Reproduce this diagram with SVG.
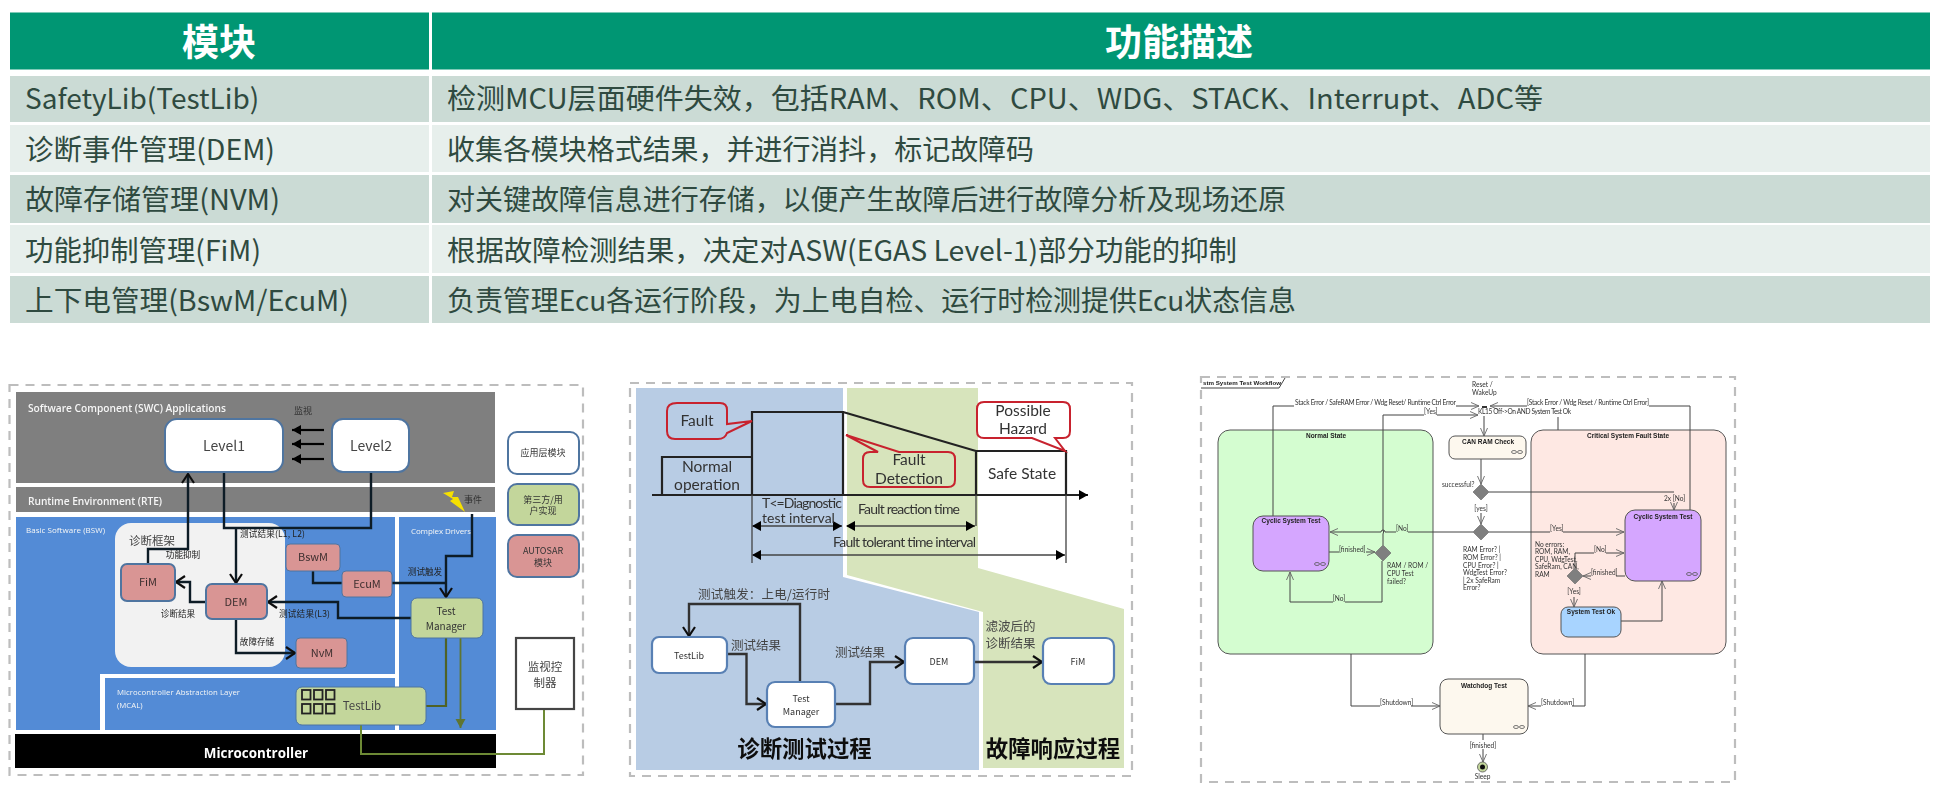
<svg xmlns="http://www.w3.org/2000/svg" width="1940" height="797" viewBox="0 0 1940 797">
<style>
text{font-family:"Noto Sans CJK SC","Noto Sans",sans-serif;fill:#333}
.hd{fill:#009673}.odd{fill:#cbdbd5}.even{fill:#e7efec}
.th{font-size:37px;font-weight:700;fill:#fff;text-anchor:middle}
.td{font-size:28px;fill:#2f4a40}
.frame{fill:none;stroke:#bdbdbd;stroke-width:2.2;stroke-dasharray:9 7}
.m{text-anchor:middle}
.mod{stroke:#4f74a0;stroke-width:2}
.w{fill:#fff}.g{fill:#c3d69b}.r{fill:#d99594}
.c{fill:none;stroke:#000;stroke-width:2.2}
.ck{fill:none;stroke:#111c28;stroke-width:2.4}
.s9{font-size:8.6px;fill:#222}.s10{font-size:9px;fill:#333}.s11{font-size:11px;fill:#3e2f2f}.s12{font-size:11.5px;fill:#444}.s13{font-size:12.5px;fill:#444}.s14{font-size:14px;fill:#444}
.wh{fill:#f6f6f6;font-family:"Open Sans","Noto Sans",sans-serif}
.la{font-family:Lato,"Noto Sans",sans-serif;fill:#333;font-size:15.5px}
.lb{font-size:14px}
.bx{stroke:#5880b4;stroke-width:2.2;fill:#fff}
.cal{fill:none;stroke:#c8232e;stroke-width:2}
.l2{fill:none;stroke:#222;stroke-width:2.2}
.thin{fill:none;stroke:#444;stroke-width:1.3}
.st{stroke:#555;stroke-width:1}
.u{font-family:Lato,"Liberation Sans",sans-serif;font-size:6.6px;fill:#333}
.ub{font-family:"Liberation Sans",sans-serif;font-size:6.5px;font-weight:700;fill:#222;text-anchor:middle}
.t{fill:none;stroke:#444;stroke-width:1}
.dm{fill:#7f7f7f;stroke:#666;stroke-width:.6}
.link{fill:none;stroke:#555;stroke-width:.8}
</style>
<defs>
<filter id="soft" x="-2%" y="-2%" width="104%" height="104%"><feGaussianBlur stdDeviation="0.65"/></filter>
<filter id="soft2" x="-2%" y="-2%" width="104%" height="104%"><feGaussianBlur stdDeviation="0.45"/></filter>
<marker id="ok" markerUnits="userSpaceOnUse" markerWidth="16" markerHeight="16" refX="11" refY="7" orient="auto"><path d="M2 1L11 7L2 13" fill="none" stroke="#111" stroke-width="2.2"/></marker>
<marker id="fk" markerUnits="userSpaceOnUse" markerWidth="12" markerHeight="12" refX="9" refY="5" orient="auto"><path d="M0 0L9 5L0 10Z" fill="#000"/></marker>
<marker id="fkb" markerUnits="userSpaceOnUse" markerWidth="12" markerHeight="12" refX="1" refY="5" orient="auto"><path d="M9 0L0 5L9 10Z" fill="#000"/></marker>
<marker id="fo" markerUnits="userSpaceOnUse" markerWidth="12" markerHeight="12" refX="9" refY="5" orient="auto"><path d="M0 0L9 5L0 10Z" fill="#5f7530"/></marker>
<marker id="og" markerUnits="userSpaceOnUse" markerWidth="10" markerHeight="10" refX="8" refY="4" orient="auto"><path d="M0 .5L8 4L0 7.500" fill="none" stroke="#666" stroke-width=".9"/></marker>
</defs>

<g id="table">
<g id="table-header">
<rect class="hd" x="10" y="12.500" width="419" height="57"/><rect class="hd" x="432" y="12.500" width="1498" height="57"/>
<text class="th" x="219" y="56">模块</text><text class="th" x="1179" y="56">功能描述</text>
</g>
<g id="row-1"><rect class="odd" x="10" y="76" width="419" height="46"/><rect class="odd" x="432" y="76" width="1498" height="46"/>
<text class="td" x="25" y="109">SafetyLib(TestLib)</text><text class="td" x="447" y="109" textLength="1096" lengthAdjust="spacingAndGlyphs">检测MCU层面硬件失效，包括RAM、ROM、CPU、WDG、STACK、Interrupt、ADC等</text></g>
<g id="row-2"><rect class="even" x="10" y="125" width="419" height="47"/><rect class="even" x="432" y="125" width="1498" height="47"/>
<text class="td" x="25" y="160" textLength="250" lengthAdjust="spacingAndGlyphs">诊断事件管理(DEM)</text><text class="td" x="447" y="160" textLength="587" lengthAdjust="spacingAndGlyphs">收集各模块格式结果，并进行消抖，标记故障码</text></g>
<g id="row-3"><rect class="odd" x="10" y="175" width="419" height="48"/><rect class="odd" x="432" y="175" width="1498" height="48"/>
<text class="td" x="25" y="210" textLength="255" lengthAdjust="spacingAndGlyphs">故障存储管理(NVM)</text><text class="td" x="447" y="210" textLength="839" lengthAdjust="spacingAndGlyphs">对关键故障信息进行存储，以便产生故障后进行故障分析及现场还原</text></g>
<g id="row-4"><rect class="even" x="10" y="225" width="419" height="48"/><rect class="even" x="432" y="225" width="1498" height="48"/>
<text class="td" x="25" y="261" textLength="236" lengthAdjust="spacingAndGlyphs">功能抑制管理(FiM)</text><text class="td" x="447" y="261" textLength="790" lengthAdjust="spacingAndGlyphs">根据故障检测结果，决定对ASW(EGAS Level-1)部分功能的抑制</text></g>
<g id="row-5"><rect class="odd" x="10" y="276" width="419" height="47"/><rect class="odd" x="432" y="276" width="1498" height="47"/>
<text class="td" x="25" y="311" textLength="324" lengthAdjust="spacingAndGlyphs">上下电管理(BswM/EcuM)</text><text class="td" x="447" y="311" textLength="849" lengthAdjust="spacingAndGlyphs">负责管理Ecu各运行阶段，为上电自检、运行时检测提供Ecu状态信息</text></g>
</g>

<g id="architecture" filter="url(#soft)">
<rect class="frame" x="9.500" y="385" width="573.500" height="390"/>
<rect x="16" y="392" width="479" height="91" fill="#7f7f7f"/>
<rect x="16" y="487" width="479" height="25" fill="#7f7f7f"/>
<path d="M16 517H395V674H100V730H16Z" fill="#528bd6"/>
<rect x="105" y="678" width="290" height="52" fill="#528bd6"/>
<rect x="399" y="517" width="97" height="213" fill="#528bd6"/>
<rect x="15" y="734" width="481" height="34" fill="#000"/>
<rect x="115" y="523" width="170" height="144" rx="16" fill="#f2f2f2"/>
<text class="wh" x="28" y="412" font-size="10.200" font-weight="600" textLength="198">Software Component (SWC) Applications</text>
<text class="wh" x="28" y="505" font-size="10.200" font-weight="600" textLength="134">Runtime Environment (RTE)</text>
<text class="wh" x="26" y="533" font-size="8" textLength="79">Basic Software (BSW)</text>
<text class="wh" x="411" y="534" font-size="8" textLength="60">Complex Drivers</text>
<text class="wh" x="117" y="695" font-size="7.800" textLength="123">Microcontroller Abstraction Layer</text>
<text class="wh" x="117" y="708" font-size="7.800">(MCAL)</text>
<text class="wh m" x="256" y="758" font-size="13.400" font-weight="700" style="fill:#fff">Microcontroller</text>
<polygon points="443,493 454,491 452,497 458,497 465,512 450,501 453,499" fill="#f6e000"/>
<g id="arch-connectors">
<path class="c" d="M324 430H292" marker-end="url(#fk)"/><path class="c" d="M324 444H292" marker-end="url(#fk)"/><path class="c" d="M324 459H292" marker-end="url(#fk)"/>
<path class="ck" d="M371 472V528H224V473"/>
<path class="ck" d="M236 528V583" marker-end="url(#ok)"/>
<path class="ck" d="M148 563V549H188V474" marker-end="url(#ok)"/>
<path class="ck" d="M206 602H190V582H176" marker-end="url(#ok)"/>
<path class="ck" d="M236 620V653H295" marker-end="url(#ok)"/>
<path class="ck" d="M313 571V583H392H446"/>
<path class="ck" d="M472 514V556H446V597" marker-end="url(#ok)"/>
<path class="ck" d="M411 618H338V602H268" marker-end="url(#ok)"/>
<path d="M446 638V706H426" fill="none" stroke="#4f6228" stroke-width="2.200"/>
<path d="M460.500 638V728" fill="none" stroke="#5f7530" stroke-width="1.800" marker-end="url(#fo)"/>
<path d="M361 725V754H544V709" fill="none" stroke="#6d8a34" stroke-width="2"/>
</g>
<g id="level1"><rect class="mod w" x="165" y="419" width="118" height="53" rx="12"/><text class="s14 m" x="224" y="451">Level1</text></g>
<g id="level2"><rect class="mod w" x="332" y="419" width="77" height="53" rx="11"/><text class="s14 m" x="371" y="451">Level2</text></g>
<g id="fim"><rect class="mod r" x="121" y="564" width="54" height="37" rx="6"/><text class="s11 m" x="148" y="586">FiM</text></g>
<g id="dem"><rect class="mod r" x="206" y="584" width="61" height="35" rx="6"/><text class="s11 m" x="236" y="606">DEM</text></g>
<g id="bswm"><rect class="mod r" x="286" y="544" width="54" height="27" rx="4" style="stroke-width:1"/><text class="s11 m" x="313" y="561">BswM</text></g>
<g id="ecum"><rect class="mod r" x="342" y="571" width="50" height="26" rx="4" style="stroke-width:1"/><text class="s11 m" x="367" y="588">EcuM</text></g>
<g id="nvm"><rect class="mod r" x="296" y="638" width="51" height="30" rx="4" style="stroke-width:1"/><text class="s11 m" x="322" y="657">NvM</text></g>
<g id="test-manager"><rect class="mod g" x="411" y="598" width="72" height="40" rx="6" style="stroke-width:1"/><text class="s10 m" x="446" y="615" style="font-size:10px">Test</text><text class="s10 m" x="446" y="630" style="font-size:10px">Manager</text></g>
<g id="testlib"><rect class="mod g" x="296" y="687" width="130" height="38" rx="6" style="stroke-width:1"/>
<g fill="none" stroke="#222" stroke-width="1.800"><rect x="302" y="690" width="8.500" height="9.500"/><rect x="314" y="690" width="8.500" height="9.500"/><rect x="326" y="690" width="8.500" height="9.500"/><rect x="302" y="704" width="8.500" height="9.500"/><rect x="314" y="704" width="8.500" height="9.500"/><rect x="326" y="704" width="8.500" height="9.500"/></g>
<text class="s12 m" x="362" y="710">TestLib</text></g>
<g id="monitor"><rect x="516" y="638" width="58" height="71" fill="#fff" stroke="#444" stroke-width="2.200"/><text class="s12 m" x="545" y="670.500">监视控</text><text class="s12 m" x="545" y="686.500">制器</text></g>
<g id="legend-app"><rect class="mod w" x="508" y="432" width="71" height="42" rx="9"/><text class="s10 m" x="543" y="456">应用层模块</text></g>
<g id="legend-third"><rect class="mod g" x="508" y="484" width="71" height="41" rx="9"/><text class="s10 m" x="543" y="503">第三方/用</text><text class="s10 m" x="543" y="514">户实现</text></g>
<g id="legend-autosar"><rect class="mod r" x="508" y="535" width="71" height="42" rx="9"/><text class="s10 m" x="543" y="554">AUTOSAR</text><text class="s10 m" x="543" y="566">模块</text></g>
<text class="s10 m" x="303" y="414">监视</text>
<text class="s10 m" x="473" y="503">事件</text>
<text class="s12 m" x="152" y="545">诊断框架</text>
<text class="s9 m" x="183" y="558">功能抑制</text>
<text class="s9" x="240" y="537" textLength="65">测试结果(L1, L2)</text>
<text class="s9 m" x="178" y="617">诊断结果</text>
<text class="s9" x="279" y="617" textLength="51">测试结果(L3)</text>
<text class="s9 m" x="257" y="645">故障存储</text>
<text class="s9 m" x="425" y="575">测试触发</text>
</g>

<g id="fault-timing" filter="url(#soft)">
<rect class="frame" x="630" y="383" width="502" height="393"/>
<polygon points="636,388 843,388 843,577 979,612 979,770 636,770" fill="#b8cce4"/>
<polygon points="847,388 978,388 978,568 1124,609 1124,768 983,768 983,612 847,575" fill="#d7e4bc"/>
<g id="timing-connectors">
<path class="l2" d="M652 495H1088" marker-end="url(#fk)"/>
<path class="l2" d="M662 495V457H752"/>
<path class="l2" d="M752 495V412H843V495"/>
<path class="l2" d="M843 412L976 451V495"/>
<path class="l2" d="M976 451H1066V495"/>
<path class="thin" d="M752 495V563M976 495V526M1066 495V563"/>
<path class="thin" d="M753 526H842" marker-start="url(#fkb)" marker-end="url(#fk)"/>
<path class="thin" d="M847 526H975" marker-start="url(#fkb)" marker-end="url(#fk)"/>
<path class="thin" d="M753 555H1065" marker-start="url(#fkb)" marker-end="url(#fk)"/>
<path class="ck" style="stroke:#333" d="M800 682V604H689V636" marker-end="url(#ok)"/>
<path class="ck" style="stroke:#333" d="M727 654H746.500V704H766" marker-end="url(#ok)"/>
<path class="ck" style="stroke:#333" d="M835 704H870V662H904" marker-end="url(#ok)"/>
<path class="ck" style="stroke:#333" d="M974 662H1042" marker-end="url(#ok)"/>
</g>
<g id="callout-fault"><path class="cal" d="M677 403H720Q727 403 727 410V424L752 421L727 433Q725 439 718 439H675Q667 439 667 431V411Q667 403 677 403Z"/><text class="la m" x="697" y="426">Fault</text></g>
<g id="callout-detection"><path class="cal" d="M899 452H948Q955 452 955 459V480Q955 487 948 487H870Q863 487 863 480V459Q863 452 870 452H878L846 435Z"/><text class="la m" x="909" y="465">Fault</text><text class="la m" x="909" y="484">Detection</text></g>
<g id="callout-hazard"><path class="cal" d="M984 402H1063Q1070 402 1070 409V431Q1070 438 1063 438H1055L1065 451L1032 438H984Q977 438 977 431V409Q977 402 984 402Z" style="fill:#fff"/><text class="la m" x="1023" y="416">Possible</text><text class="la m" x="1023" y="434">Hazard</text></g>
<text class="la m" x="707" y="472">Normal</text><text class="la m" x="707" y="490">operation</text>
<text class="la m" x="1022" y="479">Safe State</text>
<text class="la lb" x="762" y="508" textLength="80">T&lt;=Diagnostic</text>
<text class="la lb" x="762" y="523">test interval</text>
<text class="la lb" x="858" y="514" textLength="102">Fault reaction time</text>
<text class="la lb" x="833" y="547" textLength="143">Fault tolerant time interval</text>
<g id="timing-testlib"><rect class="bx" x="652" y="637" width="75" height="36" rx="7"/><text class="s10 m" x="689" y="659">TestLib</text></g>
<g id="timing-manager"><rect class="bx" x="767" y="682" width="68" height="45" rx="8"/><text class="s10 m" x="801" y="702">Test</text><text class="s10 m" x="801" y="715">Manager</text></g>
<g id="timing-dem"><rect class="bx" x="905" y="638" width="69" height="46" rx="8"/><text class="s10 m" x="939" y="665">DEM</text></g>
<g id="timing-fim"><rect class="bx" x="1043" y="638" width="71" height="46" rx="8"/><text class="s10 m" x="1078" y="665">FiM</text></g>
<text class="s13" x="698" y="599" textLength="132">测试触发：上电/运行时</text>
<text class="s13 m" x="756" y="650">测试结果</text>
<text class="s13 m" x="860" y="657">测试结果</text>
<text class="s13" x="985.500" y="631">滤波后的</text>
<text class="s13" x="985.500" y="648">诊断结果</text>
<text class="m" x="804.500" y="757" font-size="22.400" font-weight="700" style="fill:#111">诊断测试过程</text>
<text class="m" x="1053" y="757" font-size="22.400" font-weight="700" style="fill:#111">故障响应过程</text>
</g>

<g id="workflow" filter="url(#soft2)">
<rect class="frame" x="1201" y="377" width="534" height="405"/>
<path d="M1201 388H1279L1285 378" class="t"/>
<text class="ub" style="text-anchor:start;font-size:6.200px" x="1203" y="385">stm System Test Workflow</text>
<g id="normal-state"><rect class="st" x="1218" y="430" width="215" height="224" rx="12" fill="#d4fdd0"/><text class="ub" x="1326" y="438.300">Normal State</text></g>
<g id="critical-state"><rect class="st" x="1531" y="430" width="195" height="224" rx="12" fill="#fee8e3"/><text class="ub" x="1628" y="438.300">Critical System Fault State</text></g>
<g id="workflow-connectors">
<path class="t" d="M1273 516V406H1294M1456 406H1479" marker-end="url(#og)"/>
<path class="t" d="M1383 545V534A2 3 0 0 0 1383 530V415H1424M1437 415H1478" marker-end="url(#og)"/>
<path class="t" d="M1473 532H1408M1396 532H1385A2 2 0 0 0 1381 532H1330" marker-end="url(#og)"/>
<path class="t" d="M1329 552H1339M1366 552H1375" marker-end="url(#og)"/>
<path class="t" d="M1382 561V602H1345M1333 602H1290V572" marker-end="url(#og)"/>
<path class="t" d="M1484 416V436" marker-end="url(#og)"/>
<path class="t" d="M1481 459V484" marker-end="url(#og)"/>
<path class="t" d="M1481 513V524" marker-end="url(#og)"/>
<path class="t" d="M1489 492H1674"/>
<path class="t" d="M1674 503V510" marker-end="url(#og)"/>
<path class="t" d="M1489 532H1550M1563 532H1624" marker-end="url(#og)"/>
<path class="t" d="M1690 510V406H1649M1527 406H1490" marker-end="url(#og)"/>
<path class="t" d="M1558 430V417"/>
<path class="t" d="M1575 568V553H1594M1606 553H1624" marker-end="url(#og)"/>
<path class="t" d="M1625 576H1616M1591 576H1583" marker-end="url(#og)"/>
<path class="t" d="M1574 597V607" marker-end="url(#og)"/>
<path class="t" d="M1621 621H1662V581" marker-end="url(#og)"/>
<path class="t" d="M1351 654V706H1380M1411 706H1440" marker-end="url(#og)"/>
<path class="t" d="M1585 654V706H1572M1541 706H1528" marker-end="url(#og)"/>
<path class="t" d="M1483 734V740M1483 749V762" marker-end="url(#og)"/>
<path d="M1482 407H1487" stroke="#000" stroke-width="1.600"/>
</g>
<g id="cyclic-left"><rect class="st" x="1253" y="516" width="76" height="55" rx="10" fill="#d5a6ff"/><text class="ub" x="1291" y="523.300">Cyclic System Test</text><ellipse class="link" cx="1317" cy="564" rx="2.500" ry="1.500"/><ellipse class="link" cx="1323" cy="564" rx="2.500" ry="1.500"/></g>
<g id="cyclic-right"><rect class="st" x="1625" y="510" width="76" height="71" rx="10" fill="#d5a6ff"/><text class="ub" x="1663" y="519.300">Cyclic System Test</text><ellipse class="link" cx="1689" cy="574" rx="2.500" ry="1.500"/><ellipse class="link" cx="1695" cy="574" rx="2.500" ry="1.500"/></g>
<g id="can-ram"><rect class="st" x="1449" y="436" width="77" height="23" rx="6" fill="#fdf8ee"/><text class="ub" x="1488" y="444.300">CAN RAM Check</text><ellipse class="link" cx="1514" cy="452" rx="2.500" ry="1.500"/><ellipse class="link" cx="1520" cy="452" rx="2.500" ry="1.500"/></g>
<g id="system-test-ok"><rect class="st" x="1561" y="607" width="60" height="30" rx="7" fill="#a8d4ff"/><text class="ub" x="1591" y="614.300">System Test Ok</text></g>
<g id="watchdog"><rect class="st" x="1440" y="679" width="88" height="55" rx="8" fill="#fdf8ee"/><text class="ub" x="1484" y="688.300">Watchdog Test</text><ellipse class="link" cx="1516" cy="727" rx="2.500" ry="1.500"/><ellipse class="link" cx="1522" cy="727" rx="2.500" ry="1.500"/></g>
<g id="decision-1"><polygon class="dm" points="1481,484 1489,492 1481,500 1473,492"/></g>
<g id="decision-2"><polygon class="dm" points="1481,524 1489,532 1481,540 1473,532"/></g>
<g id="decision-3"><polygon class="dm" points="1383,545 1391,553 1383,561 1375,553"/></g>
<g id="decision-4"><polygon class="dm" points="1575,568 1583,576 1575,584 1567,576"/></g>
<g id="sleep"><circle cx="1482.500" cy="767" r="5" fill="#c3d69b" stroke="#555" stroke-width=".8"/><circle cx="1482.500" cy="767" r="2.500" fill="#111"/><text class="u m" x="1482.500" y="779.300">Sleep</text></g>
<text class="u" x="1472" y="387.300">Reset /</text><text class="u" x="1472" y="395.300">WakeUp</text>
<text class="u" x="1295" y="405.300" textLength="161">Stack Error / SafeRAM Error / Wdg Reset/ Runtime Ctrl Error</text>
<text class="u" x="1424" y="413.500">[Yes]</text>
<text class="u" x="1478" y="414.300" textLength="93">KL15 Off-&gt;On AND System Test Ok</text>
<text class="u" x="1527" y="405.300" textLength="122">[Stack Error / Wdg Reset / Runtime Ctrl Error]</text>
<text class="u" x="1442" y="487">successful?</text>
<text class="u" x="1664" y="500.500">2x [No]</text>
<text class="u m" x="1481" y="510.500">[yes]</text>
<text class="u" x="1396" y="530.500">[No]</text>
<text class="u" x="1550" y="530.500">[Yes]</text>
<text class="u" x="1339" y="551.500">[finished]</text>
<text class="u" x="1594" y="552">[No]</text>
<text class="u" x="1591" y="574.500">[finished]</text>
<text class="u m" x="1574" y="594">[Yes]</text>
<text class="u m" x="1339" y="600.500">[No]</text>
<text class="u" x="1380" y="704.500">[Shutdown]</text>
<text class="u" x="1541" y="704.500">[Shutdown]</text>
<text class="u m" x="1483" y="747.500">[finished]</text>
<text class="u" x="1387" y="568">RAM / ROM /</text><text class="u" x="1387" y="576">CPU Test</text><text class="u" x="1387" y="583.500">failed?</text>
<text class="u" x="1463" y="552.300">RAM Error? |</text><text class="u" x="1463" y="560">ROM Error? |</text><text class="u" x="1463" y="567.500">CPU Error? |</text><text class="u" x="1463" y="575">WdgTest Error?</text><text class="u" x="1463" y="582.500">| 2x SafeRam</text><text class="u" x="1463" y="590">Error?</text>
<text class="u" x="1535" y="546.500">No errors:</text><text class="u" x="1535" y="554">ROM, RAM,</text><text class="u" x="1535" y="561.500">CPU, WdgTest,</text><text class="u" x="1535" y="569">SafeRam, CAN,</text><text class="u" x="1535" y="576.500">RAM</text>
</g>
</svg>
